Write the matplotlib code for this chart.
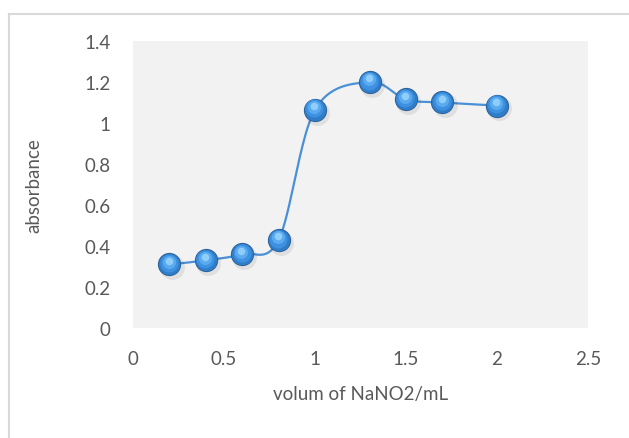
import numpy as np
import matplotlib.pyplot as plt
from matplotlib.lines import Line2D

plt.rcParams['font.family'] = ['Lato', 'DejaVu Sans']

# NaNO2 volume vs absorbance
volume = [0.2, 0.4, 0.6, 0.8, 1.0, 1.3, 1.5, 1.7, 2.0]
absorbance = [0.31, 0.33, 0.36, 0.43, 1.065, 1.20, 1.115, 1.10, 1.085]

xticks = [0, 0.5, 1, 1.5, 2, 2.5]
yticks = [0, 0.2, 0.4, 0.6, 0.8, 1, 1.2, 1.4]
xlabels = ['0', '0.5', '1', '1.5', '2', '2.5']
ylabels = ['0', '0.2', '0.4', '0.6', '0.8', '1', '1.2', '1.4']

W, H = 629, 439
L, R, T, B = 133, 588, 42, 329

fig = plt.figure(figsize=(W / 100, H / 100), dpi=100)
ax = fig.add_axes([L / W, 1 - B / H, (R - L) / W, (B - T) / H])
ax.set_facecolor('#f2f2f2')
ax.set_xlim(0, 2.5)
ax.set_ylim(0, 1.4)

# outer chart frame (only the top and left edges fall inside the image)
fig.add_artist(Line2D([8.5 / W, 8.5 / W], [0, 1 - 14.5 / H],
                      color='#d9d9d9', lw=1.5))
fig.add_artist(Line2D([8.5 / W, 1], [1 - 14.5 / H, 1 - 14.5 / H],
                      color='#d9d9d9', lw=1.5))

aspect = (B - T) / (R - L)


def smooth(x, y, n=40):
    # Bezier smoothing like spreadsheet "smoothed line", done in axes units
    x = np.asarray(x) / 2.5
    y = np.asarray(y) / 1.4 * aspect
    p = np.column_stack([x, y])
    p = np.vstack([p[0], p, p[-1]])
    out = []
    t = np.linspace(0, 1, n)[:, None]
    for i in range(1, len(p) - 2):
        p0, p1 = p[i], p[i + 1]
        c1 = p0 + (p[i + 1] - p[i - 1]) / 6
        c2 = p1 - (p[i + 2] - p[i]) / 6
        seg = ((1 - t) ** 3 * p0 + 3 * (1 - t) ** 2 * t * c1
               + 3 * (1 - t) * t ** 2 * c2 + t ** 3 * p1)
        out.append(seg)
    out = np.vstack(out)
    return out[:, 0] * 2.5, out[:, 1] / aspect * 1.4


sx, sy = smooth(volume, absorbance)
ax.plot(sx, sy, color='#4a90d6', lw=1.6, zorder=2)

# shaded spheres for the markers
vx = np.array(volume)
vy = np.array(absorbance)
ax.scatter(vx + 0.012, vy - 0.014, s=320, color='#000000', alpha=0.08,
           lw=0, zorder=3)
ax.scatter(vx, vy, s=280, color='#2c5f94', lw=0, zorder=4)
ax.scatter(vx, vy, s=240, color='#2f7cc8', lw=0, zorder=5)
ax.scatter(vx - 0.003, vy + 0.006, s=170, color='#3e90e0', lw=0, zorder=6)
ax.scatter(vx - 0.004, vy + 0.013, s=90, color='#5aaaf0', lw=0, zorder=7)
ax.scatter(vx - 0.004, vy + 0.018, s=30, color='#8fcdfa', lw=0, zorder=8)

ax.set_xticks(xticks)
ax.set_xticklabels(xlabels)
ax.set_yticks(yticks)
ax.set_yticklabels(ylabels)
ax.tick_params(length=0, labelsize=13.5, colors='#595959')
ax.tick_params(axis='x', pad=16)
ax.tick_params(axis='y', pad=16)
for s in ax.spines.values():
    s.set_visible(False)

ax.set_xlabel('volum of NaNO2/mL', fontsize=13.5, color='#595959', labelpad=13)
ax.set_ylabel('absorbance', fontsize=13.5, color='#595959', labelpad=30)

fig.savefig('out.png', dpi=100)
